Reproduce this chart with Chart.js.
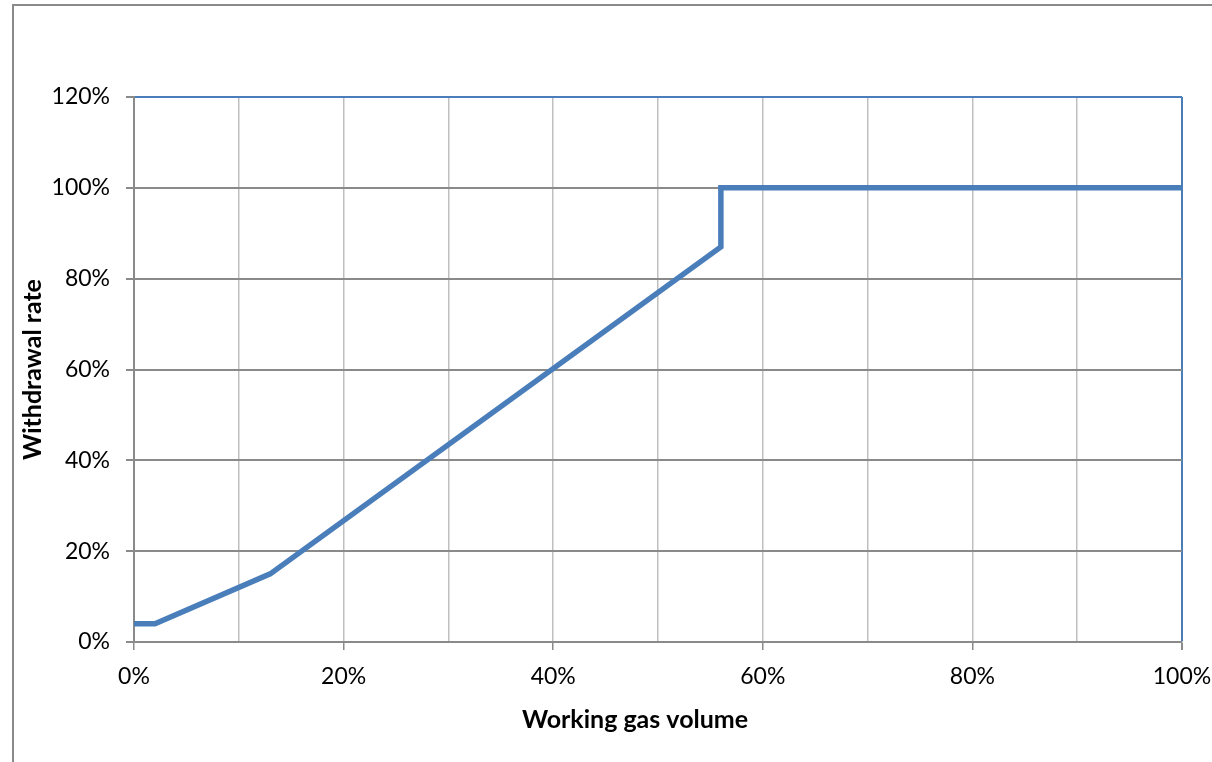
<!DOCTYPE html>
<html lang="en">
<head>
  <meta charset="UTF-8" />
  <title>Withdrawal rate</title>
  <script src="https://cdn.jsdelivr.net/npm/chart.js"></script>
  <style>
    html, body { margin: 0; padding: 0; background: #fff; }
    #wrap { width: 1212px; height: 762px; }
  </style>
</head>
<body>
  <div id="wrap"><canvas id="rateChart"></canvas></div>

  <script>
    // withdrawal curve, values in %
    const volume = [0, 2, 13, 56, 56, 100];
    const rate = [4, 4, 15, 87, 100, 100];
    const xTicks = [0, 20, 40, 60, 80, 100];
    const yTicks = [0, 20, 40, 60, 80, 100, 120];

    const FONT = 'Lato, "Open Sans", sans-serif';
    const BLUE = '#4A7EBB';

    // outer chart frame (cut off at top and right) + x axis title,
    // which Excel centres on the whole chart rather than the plot area
    const framePlugin = {
      id: 'frame',
      beforeDraw(chart) {
        const c = chart.ctx;
        c.save();
        c.fillStyle = '#fff';
        c.fillRect(0, 0, chart.width, chart.height);
        c.strokeStyle = '#8A8A8A';
        c.lineWidth = 2;
        c.beginPath();
        c.moveTo(13, chart.height);
        c.lineTo(13, 5);
        c.lineTo(chart.width, 5);
        c.stroke();
        c.restore();
      },
      afterDraw(chart) {
        const c = chart.ctx;
        c.save();
        c.fillStyle = '#000';
        c.font = 'bold 25px ' + FONT;
        c.textAlign = 'center';
        c.textBaseline = 'middle';
        c.fillText('Working gas volume', 635, 720);
        c.restore();
      }
    };

    new Chart(document.getElementById('rateChart'), {
      type: 'line',
      data: {
        datasets: [{
          data: volume.map((v, i) => ({ x: v, y: rate[i] })),
          borderColor: BLUE,
          borderWidth: 5.5,
          pointRadius: 0,
          tension: 0,
          fill: false
        }]
      },
      options: {
        responsive: true,
        maintainAspectRatio: false,
        animation: false,
        layout: { padding: { left: 0, top: 97, right: 30, bottom: 0 } },
        plugins: { legend: { display: false }, tooltip: { enabled: false } },
        scales: {
          x: {
            type: 'linear',
            min: 0, max: 100,
            afterBuildTicks: s => { s.ticks = [0,10,20,30,40,50,60,70,80,90,100].map(v => ({ value: v })); },
            afterFit: s => { s.height = 120; s.paddingLeft = 0; s.paddingRight = 0; },
            border: { color: '#8A8A8A', width: 2 },
            grid: {
              color: c => c.tick && c.tick.value === 100 ? BLUE : '#BFBFBF',
              lineWidth: c => c.tick && c.tick.value === 100 ? 2 : 1.5,
              tickLength: 8,
              tickColor: c => xTicks.includes(c.tick.value) ? '#8A8A8A' : 'rgba(0,0,0,0)'
            },
            ticks: {
              autoSkip: false,
              maxRotation: 0,
              padding: 13,
              color: '#000',
              font: { family: FONT, size: 23 },
              callback: v => xTicks.includes(v) ? v + '%' : ''
            }
          },
          y: {
            min: 0, max: 120,
            afterBuildTicks: s => { s.ticks = yTicks.map(v => ({ value: v })); },
            afterFit: s => { s.width = 134; },
            border: { color: '#8A8A8A', width: 2 },
            grid: {
              color: c => c.tick && c.tick.value === 120 ? BLUE : '#8A8A8A',
              lineWidth: 2,
              tickLength: 8,
              tickColor: '#8A8A8A'
            },
            ticks: {
              padding: 16,
              color: '#000',
              font: { family: FONT, size: 23 },
              callback: v => v + '%'
            },
            title: {
              display: true,
              text: 'Withdrawal rate',
              color: '#000',
              font: { family: FONT, size: 25, weight: 'bold' },
              padding: { top: 18, bottom: 0 }
            }
          }
        }
      },
      plugins: [framePlugin]
    });
  </script>
</body>
</html>
